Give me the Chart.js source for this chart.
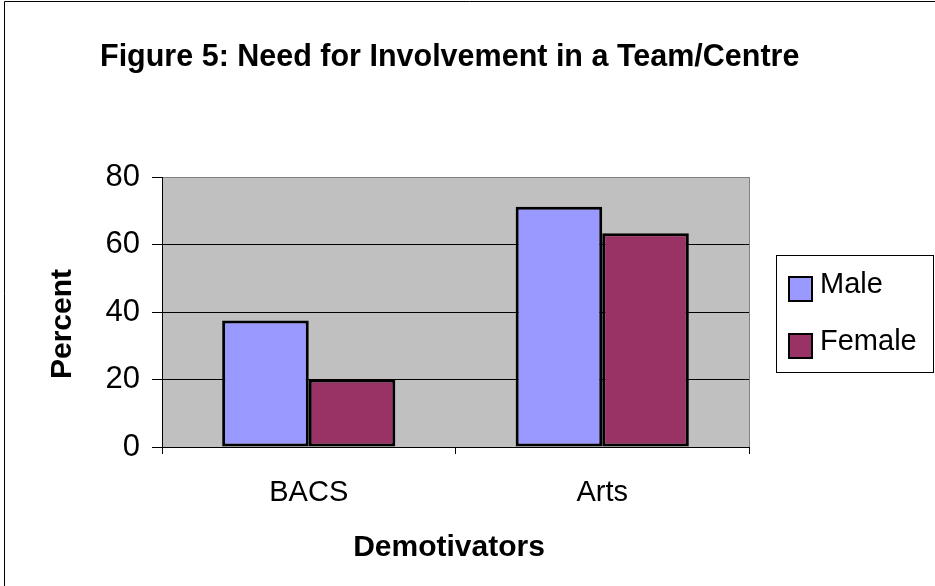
<!DOCTYPE html>
<html><head><meta charset="utf-8">
<script src="https://cdn.jsdelivr.net/npm/chart.js@4/dist/chart.umd.min.js"></script>
<style>html,body{margin:0;padding:0;background:#fff;}#wrap{width:935px;height:586px;position:relative}canvas{display:block}</style>
</head><body><div id="wrap"><canvas id="c" width="935" height="586"></canvas></div>
<script>
const titleText = 'Figure 5: Need for Involvement in a Team/Centre';
const xAxisTitle = 'Demotivators';
const yAxisTitle = 'Percent';
const categories = ['BACS', 'Arts'];
const seriesNames = ['Male', 'Female'];
const maleValues = [37.5, 71.2];
const femaleValues = [20, 63.3];
const yTickValues = [0, 20, 40, 60, 80];

const FONT = "'Liberation Sans', Arial, Helvetica, sans-serif";

const bgPlugin = {
  id: 'bgPlugin',
  beforeDraw(chart) {
    const {ctx, chartArea: a} = chart;
    ctx.save();
    ctx.fillStyle = '#fff';
    ctx.fillRect(0, 0, chart.width, chart.height);
    // outer frame (top & left visible)
    ctx.strokeStyle = '#000';
    ctx.lineWidth = 1;
    ctx.beginPath();
    ctx.moveTo(4.5, chart.height); ctx.lineTo(4.5, 1.5); ctx.lineTo(chart.width, 1.5);
    ctx.stroke();
    // plot background
    ctx.fillStyle = '#C0C0C0';
    ctx.fillRect(a.left, a.top, a.right - a.left, a.bottom - a.top);
    // right plot border
    ctx.strokeStyle = '#808080';
    ctx.beginPath();
    ctx.moveTo(a.right + 0.5, a.top); ctx.lineTo(a.right + 0.5, a.bottom);
    ctx.stroke();
    // chart title
    ctx.fillStyle = '#000';
    ctx.font = 'bold 30.5px ' + FONT;
    ctx.textBaseline = 'alphabetic';
    ctx.textAlign = 'left';
    ctx.fillText(titleText, 100, 66);
    // axis titles
    ctx.font = 'bold 30px ' + FONT;
    ctx.textAlign = 'center';
    ctx.textBaseline = 'middle';
    ctx.fillText(xAxisTitle, 449, 548);
    ctx.save();
    ctx.translate(62.5, 324);
    ctx.rotate(-Math.PI / 2);
    ctx.fillText(yAxisTitle, 0, 0);
    ctx.restore();
    ctx.restore();
  },
  afterDraw(chart) {
    const {ctx} = chart;
    ctx.save();
    // legend box
    ctx.strokeStyle = '#000';
    ctx.lineWidth = 1;
    ctx.strokeRect(776.5, 255.5, 157, 117);
    ctx.font = '29px ' + FONT;
    ctx.textBaseline = 'alphabetic';
    ctx.textAlign = 'left';
    const rows = [{sy: 277, ty: 293}, {sy: 334, ty: 350}];
    chart.data.datasets.forEach((ds, i) => {
      const r = rows[i];
      ctx.fillStyle = ds.backgroundColor;
      ctx.fillRect(789, r.sy, 23, 24);
      ctx.lineWidth = 2;
      ctx.strokeStyle = '#000';
      ctx.strokeRect(789, r.sy, 23, 24);
      ctx.fillStyle = '#000';
      ctx.fillText(ds.label, 820, r.ty);
    });
    ctx.restore();
  }
};

new Chart(document.getElementById('c'), {
  type: 'bar',
  data: {
    labels: categories,
    datasets: [
      {label: seriesNames[0], data: maleValues, backgroundColor: '#9999FF', borderColor: '#000', borderWidth: 3, borderSkipped: false},
      {label: seriesNames[1], data: femaleValues, backgroundColor: '#993366', borderColor: '#000', borderWidth: 3, borderSkipped: false}
    ]
  },
  options: {
    responsive: false,
    animation: false,
    devicePixelRatio: 1,
    layout: {padding: {left: 0, top: 177, right: 186, bottom: 0}},
    datasets: {bar: {categoryPercentage: 0.59, barPercentage: 1}},
    plugins: {legend: {display: false}, title: {display: false}, tooltip: {enabled: false}},
    scales: {
      x: {
        offset: true,
        grid: {display: true, drawOnChartArea: false, drawTicks: true, tickLength: 7, color: '#000', lineWidth: 1},
        border: {display: true, color: '#000', width: 1},
        ticks: {color: '#000', font: {family: FONT, size: 29}, padding: 22},
        title: {display: false},
        afterFit(s) { s.height = 139; }
      },
      y: {
        min: 0, max: 80,
        afterBuildTicks(s) { s.ticks = yTickValues.map(v => ({value: v})); },
        grid: {color: (c) => (c.tick && c.tick.value === 80 ? '#808080' : '#000'), tickColor: '#000', lineWidth: 1, tickLength: 10},
        border: {display: true, color: '#000', width: 1},
        ticks: {color: '#000', font: {family: FONT, size: 31}, padding: 12},
        title: {display: false},
        afterFit(s) { s.width = 162; }
      }
    }
  },
  plugins: [bgPlugin]
});
</script>
</body></html>
